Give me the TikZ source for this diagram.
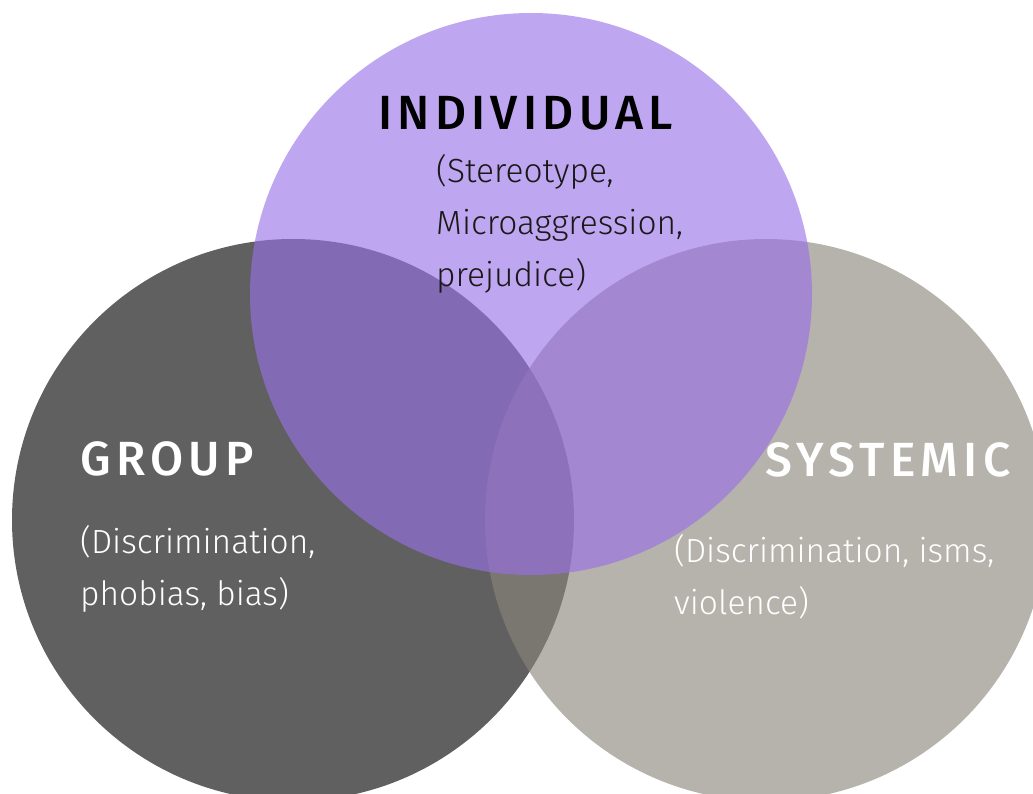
\documentclass[tikz,border=0pt]{standalone}
\usepackage{fontspec}
\usepackage{xcolor}
\setmainfont{Fira Sans Light}
\newfontfamily\headfont[LetterSpace=11]{Fira Sans Medium}
\definecolor{ringDark}{rgb}{0.0, 0.0, 0.0}
\definecolor{ringLight}{rgb}{0.54, 0.52, 0.48}
\definecolor{ringPurple}{rgb}{0.60, 0.44, 0.91}
\definecolor{textDark}{rgb}{0.1, 0.1, 0.1}

\tikzset{
	ring/.style={circle, minimum size=562pt, inner sep=0pt, fill opacity=0.625, draw=none},
	head/.style={anchor=base west, inner sep=0pt, font={\headfont\fontsize{48}{52}\selectfont}},
	body/.style={anchor=base west, inner sep=0pt, align=left, font={\fontsize{33.5}{52}\selectfont}}
}

\begin{document}
\begin{tikzpicture}[x=1pt, y=-1pt]
			\clip (0,0) rectangle (1033,794);
			\useasboundingbox (0,0) rectangle (1033,794);
			% The three sets
			\node[ring, fill=ringDark] (group) at (293,520) {};
			\node[ring, fill=ringLight] (systemic) at (766,520) {};
			\node[ring, fill=ringPurple] (individual) at (531,294) {};

			% Titles
			\node[head, text=black] (indTitle) at (378,130) {INDIVIDUAL};
			\node[head, text=white] (grpTitle) at (80,475) {GROUP};
			\node[head, text=white] (sysTitle) at (765,476) {SYSTEMIC};

			% Examples in each set (placed at the baseline of the last line)
			\node[body, text=textDark] (indText) at (436,287) {(Stereotype,\\Microaggression,\\prejudice)};
			\node[body, text=white] (grpText) at (80,605) {(Discrimination,\\phobias, bias)};
			\node[body, text=white] (sysText) at (674,614) {(Discrimination, isms,\\violence)};
		\end{tikzpicture}
\end{document}
